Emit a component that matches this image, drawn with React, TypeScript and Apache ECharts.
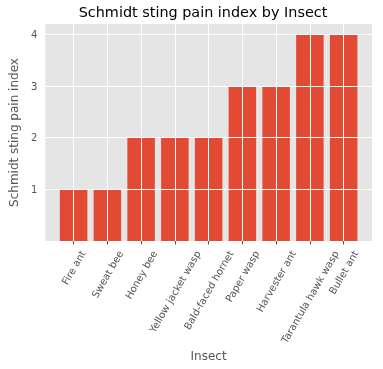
import React, { useEffect, useRef } from "react";
import * as echarts from "echarts";

const insects = [
  "Fire ant",
  "Sweat bee",
  "Honey bee",
  "Yellow jacket wasp",
  "Bald-faced hornet",
  "Paper wasp",
  "Harvester ant",
  "Tarantula hawk wasp",
  "Bullet ant",
];
const painIndex = [1, 1, 2, 2, 2, 3, 3, 4, 4];
const yTicks = [1, 2, 3, 4];
const xPositions = insects.map((_, i) => i);

const TEXT = "#555555";
const FONT = "DejaVu Sans";
const TICK_FONT_SIZE = 10;

function measure(text: string): number {
  const c = document.createElement("canvas").getContext("2d");
  if (!c) return text.length * 6;
  c.font = `${TICK_FONT_SIZE}px "${FONT}"`;
  return c.measureText(text).width;
}

export default function App() {
  const ref = useRef<HTMLDivElement>(null);
  useEffect(() => {
    if (!ref.current) return;
    const chart = echarts.init(ref.current, undefined, { renderer: "svg" });
    const theta = Math.PI / 3;
    const lineH = TICK_FONT_SIZE * 1.17;
    const widths = insects.map(measure);
    chart.setOption({
      animation: false,
      textStyle: { fontFamily: FONT },
      graphic: [
        {
          type: "text",
          x: 203,
          y: 5,
          style: {
            text: "Schmidt sting pain index by Insect",
            fontFamily: FONT,
            fontSize: 14.4,
            fill: "#000",
            textAlign: "center",
            textVerticalAlign: "top",
          },
        },
      ],
      grid: {
        left: 39,
        right: 11,
        top: 24,
        bottom: 128,
        show: true,
        backgroundColor: "#E5E5E5",
        borderWidth: 0,
      },
      xAxis: {
        type: "value",
        min: -0.84,
        max: 8.84,
        name: "Insect",
        nameLocation: "middle",
        nameGap: 109,
        nameTextStyle: { fontFamily: FONT, fontSize: 12, color: TEXT },
        axisLine: { show: false },
        splitLine: { show: false },
        axisTick: {
          show: true,
          customValues: xPositions,
          length: 3.5,
          lineStyle: { color: TEXT },
        },
        axisLabel: { show: false },
      },
      yAxis: {
        type: "value",
        min: 0,
        max: 4.2,
        name: "Schmidt sting pain index",
        nameLocation: "middle",
        nameGap: 19,
        nameTextStyle: { fontFamily: FONT, fontSize: 12, color: TEXT },
        axisLine: { show: false },
        splitLine: { show: false },
        axisTick: {
          show: true,
          customValues: yTicks,
          length: 3.5,
          lineStyle: { color: TEXT },
        },
        axisLabel: {
          customValues: yTicks,
          margin: 8,
          fontFamily: FONT,
          fontSize: TICK_FONT_SIZE,
          color: TEXT,
        },
      },
      series: [
        {
          type: "line",
          data: [],
          z: 1,
          silent: true,
          markLine: {
            silent: true,
            symbol: "none",
            label: { show: false },
            lineStyle: { color: "#ffffff", width: 1, type: "solid" },
            data: [
              ...xPositions.map((x) => ({ xAxis: x })),
              ...yTicks.map((y) => ({ yAxis: y })),
            ],
          },
        },
        {
          type: "bar",
          z: 3,
          barWidth: 27.5,
          itemStyle: { color: "#E24A33" },
          data: painIndex.map((v, i) => [xPositions[i], v]),
        },
        {
          type: "custom",
          silent: true,
          clip: false,
          z: 4,
          data: xPositions.map((x) => [x, 0]),
          renderItem: (params: any, api: any) => {
            const idx = params.dataIndex;
            const p = api.coord([api.value(0), 0]);
            const L = widths[idx];
            const top = p[1] + 7.5;
            const ax = p[0] + (L * Math.cos(theta)) / 2;
            const ay = top + (lineH / 2) * Math.cos(theta);
            return {
              type: "text",
              x: ax,
              y: ay,
              rotation: theta,
              style: {
                text: insects[idx],
                fontFamily: FONT,
                fontSize: TICK_FONT_SIZE,
                fill: TEXT,
                align: "right",
                verticalAlign: "middle",
              },
            };
          },
        },
      ],
    });
    return () => chart.dispose();
  }, []);
  return (
    <div
      ref={ref}
      style={{ position: "fixed", left: 0, top: 0, width: 383, height: 369 }}
    />
  );
}
